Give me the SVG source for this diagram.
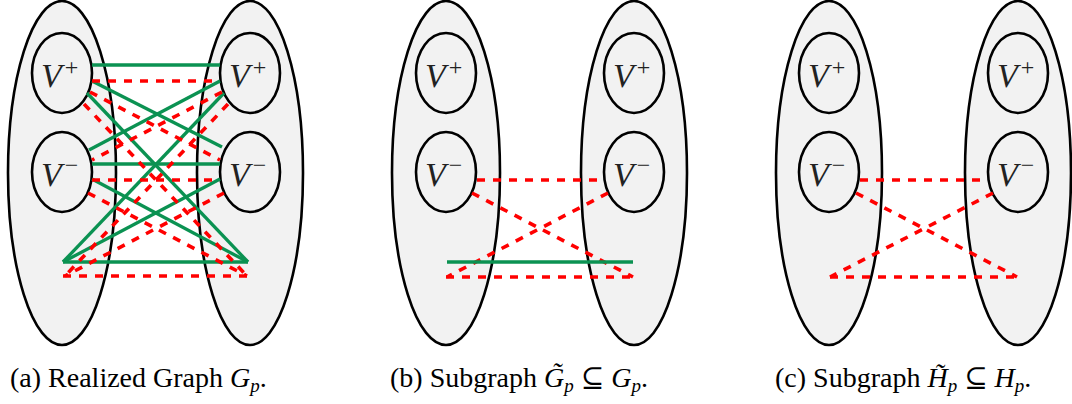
<svg xmlns="http://www.w3.org/2000/svg" width="1072" height="404" viewBox="0 0 1072 404">
<defs>
<style>
.big{fill:#f2f2f2;stroke:#000;stroke-width:2.6}
.sm{fill:#f2f2f2;stroke:#000;stroke-width:2.6}
.g{stroke:#0b9252;stroke-width:3.3;fill:none}
.r{stroke:#ff0000;stroke-width:3.6;fill:none;stroke-dasharray:8 8}
.lab{font-family:"Liberation Serif","DejaVu Serif",serif;fill:#222}
.v{font-style:italic;font-size:34px}
.sup{font-style:normal;font-size:24px}
.cap{font-family:"Liberation Serif","DejaVu Serif",serif;font-size:28px;fill:#000}
.sub{font-style:italic;font-size:19px}
</style>
</defs>
<rect width="1072" height="404" fill="#fff"/>

<!-- Panel (a) -->
<g id="panel-a">
  <g id="a-left"><ellipse class="big" cx="62" cy="173" rx="54" ry="172"/></g>
  <g id="a-right"><ellipse class="big" cx="250" cy="173" rx="53" ry="172"/></g>
  <g id="a-left-vplus"><ellipse class="sm" cx="62" cy="73" rx="30" ry="40"/><text class="lab v" x="41" y="87">V<tspan class="sup" dx="3" dy="-12">+</tspan></text></g>
  <g id="a-left-vminus"><ellipse class="sm" cx="62" cy="172" rx="30" ry="40"/><text class="lab v" x="41" y="186">V<tspan class="sup" dx="3" dy="-13">−</tspan></text></g>
  <g id="a-right-vplus"><ellipse class="sm" cx="250" cy="73" rx="30" ry="40"/><text class="lab v" x="229" y="87">V<tspan class="sup" dx="3" dy="-12">+</tspan></text></g>
  <g id="a-right-vminus"><ellipse class="sm" cx="250" cy="172" rx="30" ry="40"/><text class="lab v" x="229" y="186">V<tspan class="sup" dx="3" dy="-13">−</tspan></text></g>
  <g id="a-connectors">
    <line class="g" x1="92" y1="65" x2="220" y2="65"/>
    <line class="g" x1="92" y1="81" x2="222" y2="147"/>
    <line class="g" x1="87" y1="93" x2="248" y2="262"/>
    <line class="g" x1="89" y1="150" x2="220" y2="81"/>
    <line class="g" x1="224" y1="93" x2="63" y2="262"/>
    <line class="g" x1="92" y1="164" x2="220" y2="164"/>
    <line class="g" x1="92" y1="179" x2="248" y2="262"/>
    <line class="g" x1="220" y1="179" x2="63" y2="262"/>
    <line class="g" x1="63" y1="262" x2="248" y2="262"/>
    <line class="r" x1="92" y1="81" x2="220" y2="81"/>
    <line class="r" x1="90" y1="92" x2="220" y2="160"/>
    <line class="r" x1="84" y1="104" x2="247" y2="276"/>
    <line class="r" x1="222" y1="92" x2="92" y2="160"/>
    <line class="r" x1="228" y1="104" x2="65" y2="276"/>
    <line class="r" x1="92" y1="180" x2="220" y2="180"/>
    <line class="r" x1="88" y1="193" x2="247" y2="276"/>
    <line class="r" x1="224" y1="193" x2="65" y2="276"/>
    <line class="r" x1="63" y1="276" x2="248" y2="276"/>
  </g>
</g>

<!-- Panel (b) -->
<g id="panel-b" transform="translate(384,0)">
  <g id="b-left"><ellipse class="big" cx="62" cy="173" rx="54" ry="172"/></g>
  <g id="b-right"><ellipse class="big" cx="250" cy="173" rx="53" ry="172"/></g>
  <g id="b-left-vplus"><ellipse class="sm" cx="62" cy="73" rx="30" ry="40"/><text class="lab v" x="41" y="87">V<tspan class="sup" dx="3" dy="-12">+</tspan></text></g>
  <g id="b-left-vminus"><ellipse class="sm" cx="62" cy="172" rx="30" ry="40"/><text class="lab v" x="41" y="186">V<tspan class="sup" dx="3" dy="-13">−</tspan></text></g>
  <g id="b-right-vplus"><ellipse class="sm" cx="250" cy="73" rx="30" ry="40"/><text class="lab v" x="229" y="87">V<tspan class="sup" dx="3" dy="-12">+</tspan></text></g>
  <g id="b-right-vminus"><ellipse class="sm" cx="250" cy="172" rx="30" ry="40"/><text class="lab v" x="229" y="186">V<tspan class="sup" dx="3" dy="-13">−</tspan></text></g>
  <g id="b-connectors">
    <line class="r" x1="93" y1="180" x2="218" y2="180"/>
    <line class="r" x1="88" y1="193" x2="249" y2="277"/>
    <line class="r" x1="224" y1="193" x2="63" y2="277"/>
    <line class="r" x1="62" y1="277" x2="249" y2="277"/>
    <line class="g" x1="63" y1="262" x2="249" y2="262"/>
  </g>
</g>

<!-- Panel (c) -->
<g id="panel-c" transform="translate(768,0)">
  <g id="c-left"><ellipse class="big" cx="61" cy="173" rx="53" ry="172"/></g>
  <g id="c-right"><ellipse class="big" cx="250" cy="173" rx="53" ry="172"/></g>
  <g id="c-left-vplus"><ellipse class="sm" cx="61" cy="73" rx="30" ry="40"/><text class="lab v" x="40" y="87">V<tspan class="sup" dx="3" dy="-12">+</tspan></text></g>
  <g id="c-left-vminus"><ellipse class="sm" cx="61" cy="172" rx="30" ry="40"/><text class="lab v" x="40" y="186">V<tspan class="sup" dx="3" dy="-13">−</tspan></text></g>
  <g id="c-right-vplus"><ellipse class="sm" cx="250" cy="73" rx="30" ry="40"/><text class="lab v" x="229" y="87">V<tspan class="sup" dx="3" dy="-12">+</tspan></text></g>
  <g id="c-right-vminus"><ellipse class="sm" cx="250" cy="172" rx="30" ry="40"/><text class="lab v" x="229" y="186">V<tspan class="sup" dx="3" dy="-13">−</tspan></text></g>
  <g id="c-connectors">
    <line class="r" x1="92" y1="180" x2="220" y2="180"/>
    <line class="r" x1="88" y1="193" x2="249" y2="277"/>
    <line class="r" x1="225" y1="193" x2="62" y2="277"/>
    <line class="r" x1="62" y1="277" x2="249" y2="277"/>
  </g>
</g>

<!-- Captions -->
<g id="captions">
  <text class="cap" x="10" y="387">(a) Realized Graph <tspan font-style="italic">G</tspan><tspan class="sub" dy="5">p</tspan><tspan dy="-5">.</tspan></text>
  <text class="cap" x="390" y="387">(b) Subgraph <tspan font-style="italic">G̃</tspan><tspan class="sub" dy="5">p</tspan><tspan dy="-5"> ⊆ </tspan><tspan font-style="italic">G</tspan><tspan class="sub" dy="5">p</tspan><tspan dy="-5">.</tspan></text>
  <text class="cap" x="775" y="387">(c) Subgraph <tspan font-style="italic">H̃</tspan><tspan class="sub" dy="5">p</tspan><tspan dy="-5"> ⊆ </tspan><tspan font-style="italic">H</tspan><tspan class="sub" dy="5">p</tspan><tspan dy="-5">.</tspan></text>
</g>
</svg>
